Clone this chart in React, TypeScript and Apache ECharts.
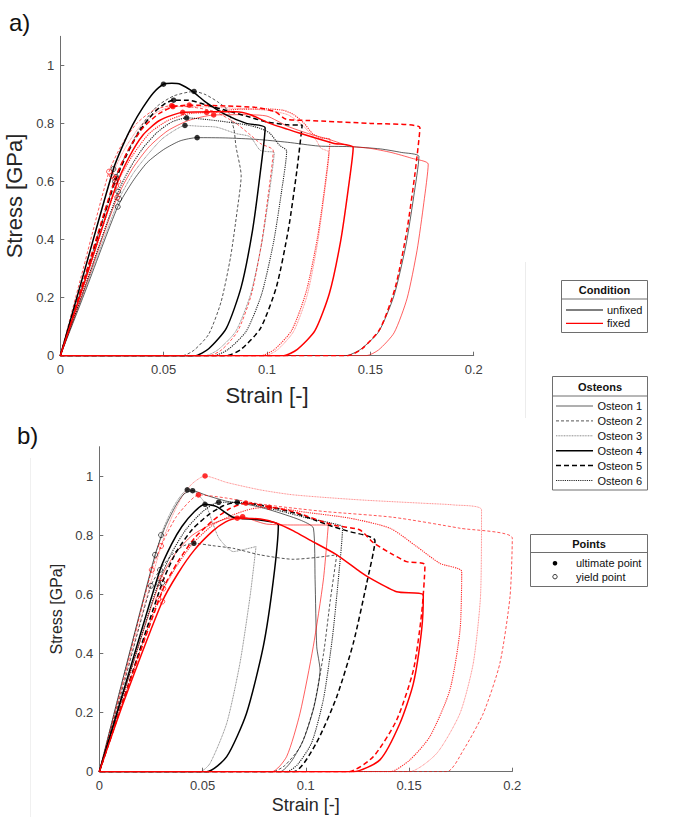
import React, { useEffect, useRef } from "react";
import * as echarts from "echarts";

// ---------- tick labels ----------
const STRAIN_TICKS = [0, 0.05, 0.1, 0.15, 0.2];
const STRESS_TICKS = [0, 0.2, 0.4, 0.6, 0.8, 1];

// ---------- panel a) curves [strain, stress] ----------
const A_U1 = [[0,0],[0.012,0.22],[0.0278,0.513],[0.035,0.6],[0.042,0.665],[0.05,0.71],[0.058,0.74],[0.0662,0.751],[0.08,0.75],[0.095,0.745],[0.11,0.735],[0.125,0.722],[0.14,0.72],[0.155,0.712],[0.165,0.70],[0.1735,0.686],[0.171,0.549],[0.1671,0.377],[0.1614,0.206],[0.154,0.082],[0.1451,0.021],[0.138,0],[0,0]];
const A_U2 = [[0,0],[0.012,0.27],[0.027,0.616],[0.033,0.71],[0.04,0.8],[0.047,0.86],[0.055,0.895],[0.0647,0.91],[0.07,0.90],[0.076,0.875],[0.081,0.845],[0.084,0.78],[0.085,0.72],[0.0875,0.62],[0.0855,0.496],[0.0824,0.341],[0.0778,0.186],[0.0718,0.074],[0.0647,0.019],[0.059,0],[0,0]];
const A_U3 = [[0,0],[0.012,0.23],[0.0285,0.54],[0.035,0.625],[0.042,0.69],[0.049,0.745],[0.055,0.775],[0.0603,0.793],[0.068,0.79],[0.0757,0.787],[0.085,0.765],[0.0918,0.754],[0.0966,0.708],[0.1,0.703],[0.1035,0.70],[0.1011,0.56],[0.0974,0.385],[0.092,0.21],[0.0849,0.084],[0.0764,0.021],[0.07,0],[0,0]];
const A_U4 = [[0,0],[0.012,0.30],[0.0257,0.643],[0.03,0.72],[0.035,0.795],[0.04,0.855],[0.045,0.905],[0.0499,0.935],[0.054,0.938],[0.058,0.935],[0.064,0.91],[0.07,0.875],[0.08,0.83],[0.09,0.80],[0.0991,0.785],[0.0967,0.628],[0.093,0.432],[0.0875,0.236],[0.0803,0.094],[0.0718,0.024],[0.065,0],[0,0]];
const A_U5 = [[0,0],[0.012,0.27],[0.0265,0.60],[0.032,0.69],[0.038,0.77],[0.045,0.835],[0.05,0.865],[0.0548,0.88],[0.062,0.88],[0.07,0.865],[0.08,0.845],[0.09,0.825],[0.1,0.805],[0.11,0.795],[0.117,0.794],[0.1144,0.635],[0.1104,0.437],[0.1046,0.238],[0.0969,0.095],[0.0878,0.024],[0.0805,0],[0,0]];
const A_U6 = [[0,0],[0.012,0.24],[0.028,0.565],[0.034,0.65],[0.04,0.715],[0.047,0.77],[0.054,0.805],[0.0611,0.819],[0.075,0.81],[0.09,0.795],[0.0966,0.783],[0.1014,0.766],[0.106,0.725],[0.1095,0.705],[0.107,0.564],[0.1031,0.388],[0.0974,0.212],[0.09,0.085],[0.0811,0.021],[0.074,0],[0,0]];
const A_F1 = [[0,0],[0.012,0.235],[0.0275,0.545],[0.035,0.645],[0.043,0.72],[0.052,0.775],[0.062,0.81],[0.0742,0.829],[0.09,0.83],[0.1,0.825],[0.11,0.79],[0.12,0.765],[0.13,0.745],[0.14,0.722],[0.15,0.714],[0.16,0.70],[0.17,0.68],[0.178,0.66],[0.1759,0.528],[0.1726,0.363],[0.1678,0.198],[0.1615,0.079],[0.154,0.02],[0.148,0],[0,0]];
const A_F2 = [[0,0],[0.01,0.27],[0.0236,0.634],[0.03,0.73],[0.037,0.8],[0.045,0.845],[0.0539,0.861],[0.065,0.855],[0.075,0.84],[0.085,0.80],[0.092,0.76],[0.097,0.73],[0.103,0.707],[0.1008,0.566],[0.0974,0.389],[0.0925,0.212],[0.0859,0.085],[0.0782,0.021],[0.072,0],[0,0]];
const A_F3 = [[0,0],[0.01,0.25],[0.025,0.62],[0.031,0.71],[0.038,0.785],[0.046,0.835],[0.0545,0.858],[0.07,0.857],[0.085,0.852],[0.1,0.845],[0.11,0.83],[0.117,0.795],[0.121,0.765],[0.124,0.74],[0.126,0.715],[0.13,0.70],[0.1278,0.56],[0.1244,0.385],[0.1195,0.21],[0.1129,0.084],[0.1052,0.021],[0.099,0],[0,0]];
const A_F4 = [[0,0],[0.012,0.26],[0.027,0.585],[0.033,0.68],[0.04,0.76],[0.048,0.81],[0.0592,0.838],[0.075,0.84],[0.085,0.84],[0.092,0.83],[0.1014,0.80],[0.116,0.766],[0.132,0.732],[0.1417,0.717],[0.1393,0.574],[0.1356,0.394],[0.1302,0.215],[0.1232,0.086],[0.1147,0.022],[0.108,0],[0,0]];
const A_F5 = [[0,0],[0.012,0.275],[0.0265,0.61],[0.033,0.71],[0.04,0.785],[0.048,0.835],[0.055,0.858],[0.0624,0.863],[0.08,0.86],[0.095,0.855],[0.104,0.84],[0.109,0.815],[0.12,0.81],[0.15,0.80],[0.174,0.785],[0.1716,0.628],[0.1677,0.432],[0.1621,0.236],[0.1548,0.094],[0.146,0.024],[0.139,0],[0,0]];
const A_F6 = [[0,0],[0.012,0.255],[0.028,0.60],[0.035,0.69],[0.043,0.765],[0.052,0.81],[0.061,0.832],[0.0708,0.838],[0.085,0.848],[0.1,0.85],[0.108,0.845],[0.113,0.83],[0.118,0.80],[0.122,0.765],[0.126,0.75],[0.1305,0.745],[0.1282,0.596],[0.1245,0.41],[0.1191,0.224],[0.1121,0.089],[0.1037,0.022],[0.097,0],[0,0]];

// ---------- panel b) curves ----------
const B_U1 = [[0,0],[0.012,0.33],[0.027,0.734],[0.032,0.83],[0.037,0.9],[0.041,0.94],[0.0452,0.951],[0.052,0.935],[0.062,0.915],[0.073,0.903],[0.0827,0.886],[0.0972,0.852],[0.1037,0.824],[0.1045,0.65],[0.1053,0.423],[0.1069,0.344],[0.104,0.22],[0.099,0.11],[0.093,0.035],[0.0875,0],[0,0]];
const B_U2 = [[0,0],[0.012,0.3],[0.025,0.629],[0.03,0.69],[0.036,0.74],[0.041,0.765],[0.0458,0.773],[0.055,0.765],[0.0649,0.756],[0.0778,0.734],[0.094,0.719],[0.105,0.725],[0.115,0.734],[0.1119,0.582],[0.1086,0.40],[0.1038,0.218],[0.0975,0.087],[0.09,0.022],[0.084,0],[0,0]];
const B_U3 = [[0,0],[0.012,0.33],[0.0299,0.801],[0.034,0.87],[0.038,0.92],[0.0426,0.954],[0.046,0.95],[0.0512,0.909],[0.0545,0.85],[0.058,0.79],[0.0649,0.745],[0.07,0.752],[0.0759,0.762],[0.073,0.593],[0.0681,0.367],[0.0617,0.164],[0.0536,0.028],[0.0487,0],[0,0]];
const B_U4 = [[0,0],[0.012,0.28],[0.0294,0.683],[0.035,0.77],[0.04,0.83],[0.046,0.88],[0.0512,0.905],[0.0568,0.897],[0.0649,0.861],[0.0778,0.852],[0.0867,0.835],[0.0843,0.649],[0.0794,0.423],[0.0713,0.198],[0.0617,0.051],[0.052,0],[0,0]];
const B_U5 = [[0,0],[0.012,0.25],[0.0305,0.64],[0.037,0.74],[0.045,0.82],[0.053,0.87],[0.06,0.9],[0.0668,0.912],[0.08,0.90],[0.095,0.875],[0.105,0.85],[0.113,0.83],[0.12,0.815],[0.1335,0.782],[0.1295,0.638],[0.123,0.435],[0.115,0.254],[0.105,0.096],[0.094,0],[0,0]];
const B_U6 = [[0,0],[0.012,0.27],[0.0286,0.638],[0.035,0.74],[0.042,0.82],[0.05,0.88],[0.0578,0.912],[0.07,0.91],[0.08,0.895],[0.0891,0.88],[0.1,0.86],[0.1125,0.841],[0.1178,0.827],[0.1159,0.662],[0.1129,0.455],[0.1086,0.248],[0.1029,0.099],[0.0961,0.025],[0.0907,0],[0,0]];
const B_F1 = [[0,0],[0.012,0.27],[0.0299,0.655],[0.037,0.74],[0.045,0.8],[0.055,0.84],[0.062,0.857],[0.0694,0.863],[0.075,0.85],[0.081,0.838],[0.094,0.835],[0.1109,0.835],[0.1085,0.649],[0.1036,0.423],[0.0972,0.198],[0.0907,0.051],[0.0835,0],[0,0]];
const B_F2 = [[0,0],[0.011,0.29],[0.0254,0.683],[0.031,0.78],[0.037,0.86],[0.043,0.91],[0.048,0.937],[0.0617,0.926],[0.0778,0.906],[0.094,0.892],[0.1101,0.88],[0.1424,0.861],[0.1747,0.824],[0.2,0.79],[0.1989,0.593],[0.194,0.367],[0.186,0.198],[0.1763,0.073],[0.1682,0],[0,0]];
const B_F3 = [[0,0],[0.012,0.31],[0.0299,0.764],[0.035,0.86],[0.04,0.93],[0.045,0.975],[0.0512,1.001],[0.0617,0.979],[0.0778,0.954],[0.094,0.937],[0.1262,0.92],[0.1585,0.908],[0.1714,0.903],[0.1851,0.886],[0.1846,0.593],[0.1811,0.367],[0.1747,0.198],[0.1634,0.062],[0.1501,0],[0,0]];
const B_F4 = [[0,0],[0.012,0.24],[0.0305,0.576],[0.038,0.67],[0.046,0.75],[0.055,0.815],[0.061,0.845],[0.0668,0.858],[0.078,0.855],[0.0859,0.841],[0.094,0.815],[0.102,0.784],[0.115,0.734],[0.1262,0.677],[0.1311,0.655],[0.144,0.609],[0.1569,0.598],[0.1561,0.48],[0.1521,0.299],[0.1456,0.164],[0.1359,0.04],[0.123,0],[0,0]];
const B_F5 = [[0,0],[0.012,0.25],[0.031,0.62],[0.038,0.71],[0.046,0.79],[0.055,0.85],[0.063,0.89],[0.071,0.909],[0.082,0.897],[0.094,0.88],[0.1133,0.835],[0.1262,0.818],[0.1327,0.775],[0.1424,0.734],[0.1488,0.711],[0.1577,0.70],[0.1561,0.536],[0.1521,0.344],[0.144,0.175],[0.1327,0.051],[0.1206,0],[0,0]];
const B_F6 = [[0,0],[0.012,0.25],[0.0286,0.584],[0.036,0.68],[0.045,0.77],[0.055,0.835],[0.065,0.87],[0.074,0.89],[0.0823,0.895],[0.1,0.878],[0.1214,0.858],[0.1408,0.824],[0.1537,0.762],[0.165,0.705],[0.1755,0.677],[0.1747,0.48],[0.1698,0.277],[0.1601,0.119],[0.1504,0.04],[0.1408,0],[0,0]];

// ---------- marked points ----------
const A_ULT_UNFIXED = [[0.0499,0.935],[0.0647,0.91],[0.0548,0.88],[0.0611,0.819],[0.0603,0.793],[0.0662,0.751]];
const A_ULT_FIXED = [[0.0539,0.861],[0.0545,0.858],[0.0624,0.863],[0.0592,0.838],[0.0708,0.838],[0.0742,0.829]];
const A_YLD_UNFIXED = [[0.0257,0.643],[0.027,0.616],[0.0265,0.6],[0.028,0.565],[0.0285,0.54],[0.0278,0.513]];
const A_YLD_FIXED = [[0.0236,0.634],[0.025,0.62],[0.0265,0.61],[0.027,0.585],[0.028,0.6],[0.0275,0.545]];
const B_ULT_UNFIXED = [[0.0426,0.954],[0.0452,0.951],[0.0512,0.905],[0.0578,0.912],[0.0668,0.912],[0.0458,0.773]];
const B_ULT_FIXED = [[0.0512,1.001],[0.048,0.937],[0.071,0.909],[0.0823,0.895],[0.0694,0.863],[0.0668,0.858]];
const B_YLD_UNFIXED = [[0.0299,0.801],[0.027,0.734],[0.0294,0.683],[0.0286,0.638],[0.0305,0.64],[0.025,0.629]];
const B_YLD_FIXED = [[0.0299,0.764],[0.0254,0.683],[0.0299,0.655],[0.031,0.62],[0.0305,0.576],[0.0286,0.584]];

const OSTEONS = ["Osteon 1", "Osteon 2", "Osteon 3", "Osteon 4", "Osteon 5", "Osteon 6"];
const CONDITIONS = ["unfixed", "fixed"];
const POINT_TYPES = ["ultimate point", "yield point"];

const COLORS: Record<string, string> = { unfixed: "#000000", fixed: "#ff0000" };
const OST_STYLE: Record<number, { type: any; width: number; opacity: number }> = {
  1: { type: "solid", width: 0.9, opacity: 0.7 },
  2: { type: [3, 2], width: 0.9, opacity: 0.75 },
  3: { type: [1, 0.6], width: 0.9, opacity: 0.5 },
  4: { type: "solid", width: 1.5, opacity: 1 },
  5: { type: [5, 3], width: 1.5, opacity: 1 },
  6: { type: [1.2, 1], width: 1.1, opacity: 0.85 },
};

const PANEL_A = [
  { o: 3, c: "unfixed", d: A_U3 }, { o: 3, c: "fixed", d: A_F3 },
  { o: 1, c: "unfixed", d: A_U1 }, { o: 1, c: "fixed", d: A_F1 },
  { o: 2, c: "unfixed", d: A_U2 }, { o: 2, c: "fixed", d: A_F2 },
  { o: 6, c: "unfixed", d: A_U6 }, { o: 6, c: "fixed", d: A_F6 },
  { o: 5, c: "unfixed", d: A_U5 }, { o: 5, c: "fixed", d: A_F5 },
  { o: 4, c: "unfixed", d: A_U4 }, { o: 4, c: "fixed", d: A_F4 },
];
const PANEL_B = [
  { o: 3, c: "unfixed", d: B_U3 }, { o: 3, c: "fixed", d: B_F3 },
  { o: 1, c: "unfixed", d: B_U1 }, { o: 1, c: "fixed", d: B_F1 },
  { o: 2, c: "unfixed", d: B_U2 }, { o: 2, c: "fixed", d: B_F2 },
  { o: 6, c: "unfixed", d: B_U6 }, { o: 6, c: "fixed", d: B_F6 },
  { o: 5, c: "unfixed", d: B_U5 }, { o: 5, c: "fixed", d: B_F5 },
  { o: 4, c: "unfixed", d: B_U4 }, { o: 4, c: "fixed", d: B_F4 },
];

const FONT = '"Liberation Sans", Arial, sans-serif';

function makeAxes(idx: number, nameSizeX: number, nameSizeY: number, gapX: number, gapY: number) {
  const axisLine = { show: true, lineStyle: { color: "#6e6e6e", width: 1 } };
  const axisLabel = { color: "#404040", fontSize: 13, fontFamily: FONT };
  return {
    x: {
      type: "value", gridIndex: idx, min: 0, max: 0.2, interval: 0.05,
      axisLine, axisTick: { show: true, inside: true, length: 4, lineStyle: { color: "#6e6e6e" }, customValues: STRAIN_TICKS },
      axisLabel: { ...axisLabel, margin: 7, customValues: STRAIN_TICKS },
      splitLine: { show: false },
      name: "Strain [-]", nameLocation: "middle", nameGap: gapX,
      nameTextStyle: { fontSize: nameSizeX, color: "#262626", fontFamily: FONT },
    },
    y: {
      type: "value", gridIndex: idx, min: 0, max: 1.1, interval: 0.2,
      axisLine, axisTick: { show: true, inside: true, length: 4, lineStyle: { color: "#6e6e6e" }, customValues: STRESS_TICKS },
      axisLabel: { ...axisLabel, margin: 6, customValues: STRESS_TICKS },
      splitLine: { show: false },
      name: "Stress [GPa]", nameLocation: "middle", nameGap: gapY,
      nameTextStyle: { fontSize: nameSizeY, color: "#262626", fontFamily: FONT },
    },
  };
}

function lineSeries(panel: any[], idx: number) {
  return panel.map((p) => {
    const st = OST_STYLE[p.o];
    return {
      type: "line", name: `${OSTEONS[p.o - 1]} ${p.c}`, xAxisIndex: idx, yAxisIndex: idx,
      data: p.d, showSymbol: false, symbol: "none", smooth: 0.22, silent: true,
      lineStyle: { color: COLORS[p.c], width: st.width, type: st.type, opacity: st.opacity },
      z: 2,
    };
  });
}

function pointSeries(idx: number, ultU: number[][], ultF: number[][], yU: number[][], yF: number[][]) {
  const ult = (data: number[][], c: string) => ({
    type: "scatter", xAxisIndex: idx, yAxisIndex: idx, data, symbol: "circle", symbolSize: 5.5,
    itemStyle: { color: COLORS[c] }, z: 5, silent: true,
  });
  const yl = (data: number[][], c: string) => ({
    type: "scatter", xAxisIndex: idx, yAxisIndex: idx, data, symbol: "circle", symbolSize: 5,
    itemStyle: { color: "rgba(0,0,0,0)", borderColor: COLORS[c], borderWidth: 0.8, opacity: 0.8 }, z: 4, silent: true,
  });
  return [ult(ultU, "unfixed"), ult(ultF, "fixed"), yl(yU, "unfixed"), yl(yF, "fixed")];
}

function legendGraphics() {
  const els: any[] = [];
  const border = "#6e6e6e";
  const box = (x: number, y: number, w: number, h: number, sep: number, title: string) => {
    els.push({ type: "rect", shape: { x, y, width: w, height: h }, style: { fill: "#fff", stroke: border, lineWidth: 1 }, z: 10 });
    els.push({ type: "line", shape: { x1: x, y1: sep, x2: x + w, y2: sep }, style: { stroke: border, lineWidth: 1 }, z: 11 });
    els.push({ type: "text", style: { text: title, x: x + w / 2, y: (y + sep) / 2 + 0.5, font: `bold 11px ${FONT}`, fill: "#111", textAlign: "center", textVerticalAlign: "middle" }, z: 11 });
  };
  const label = (text: string, x: number, y: number) =>
    els.push({ type: "text", style: { text, x, y, font: `11px ${FONT}`, fill: "#111", textAlign: "left", textVerticalAlign: "middle" }, z: 11 });

  // Condition
  box(561.5, 280.5, 86, 52, 299, "Condition");
  CONDITIONS.forEach((c, i) => {
    const y = 310 + i * 13.3;
    els.push({ type: "line", shape: { x1: 566, y1: y, x2: 603, y2: y }, style: { stroke: COLORS[c], lineWidth: 1.2 }, z: 11 });
    label(c, 607, y);
  });

  // Osteons
  box(552.5, 376.5, 95, 113.5, 396, "Osteons");
  OSTEONS.forEach((o, i) => {
    const y = 406 + i * 14.9;
    const st = OST_STYLE[i + 1];
    const dash = Array.isArray(st.type) ? st.type : null;
    els.push({
      type: "line", shape: { x1: 556, y1: y, x2: 593, y2: y },
      style: { stroke: "#000", lineWidth: st.width, lineDash: dash, opacity: st.opacity }, z: 11,
    });
    label(o, 597.5, y);
  });

  // Points
  box(530.5, 534.5, 117, 52, 552.5, "Points");
  els.push({ type: "circle", shape: { cx: 555, cy: 563.3, r: 2.3 }, style: { fill: "#000" }, z: 11 });
  els.push({ type: "circle", shape: { cx: 555, cy: 576.7, r: 2.2 }, style: { fill: "none", stroke: "#000", lineWidth: 0.8 }, z: 11 });
  label(POINT_TYPES[0], 576, 563.3);
  label(POINT_TYPES[1], 576, 576.7);

  // panel letters
  els.push({ type: "text", style: { text: "a)", x: 9, y: 22, font: `24px ${FONT}`, fill: "#111", textAlign: "left", textVerticalAlign: "middle" }, z: 11 });
  els.push({ type: "text", style: { text: "b)", x: 17, y: 435, font: `24px ${FONT}`, fill: "#111", textAlign: "left", textVerticalAlign: "middle" }, z: 11 });

  // faint figure-assembly edges
  els.push({ type: "line", shape: { x1: 525.5, y1: 262, x2: 525.5, y2: 418 }, style: { stroke: "#ececec", lineWidth: 1 }, z: 0 });
  els.push({ type: "line", shape: { x1: 30.5, y1: 458, x2: 30.5, y2: 817 }, style: { stroke: "#f0f0f0", lineWidth: 1 }, z: 0 });
  return els;
}

export default function App() {
  const ref = useRef<HTMLDivElement>(null);
  useEffect(() => {
    if (!ref.current) return;
    const chart = echarts.init(ref.current, null, { renderer: "svg" });
    const axA = makeAxes(0, 22, 22, 29, 25);
    const axB = makeAxes(1, 18, 16, 24, 26);
    const option: any = {
      animation: false,
      backgroundColor: "#ffffff",
      grid: [
        { left: 60.3, top: 36.3, width: 413.4, height: 319.4, containLabel: false, outerBoundsMode: "none" },
        { left: 99.3, top: 446.7, width: 413, height: 325, containLabel: false, outerBoundsMode: "none" },
      ],
      xAxis: [axA.x, axB.x],
      yAxis: [axA.y, axB.y],
      series: [
        ...lineSeries(PANEL_A, 0),
        ...lineSeries(PANEL_B, 1),
        ...pointSeries(0, A_ULT_UNFIXED, A_ULT_FIXED, A_YLD_UNFIXED, A_YLD_FIXED),
        ...pointSeries(1, B_ULT_UNFIXED, B_ULT_FIXED, B_YLD_UNFIXED, B_YLD_FIXED),
      ],
      graphic: { elements: legendGraphics() },
    };
    chart.setOption(option);
    return () => chart.dispose();
  }, []);
  return (
    <div
      ref={ref}
      style={{ position: "absolute", left: 0, top: 0, width: 673, height: 817, background: "#fff" }}
    />
  );
}
